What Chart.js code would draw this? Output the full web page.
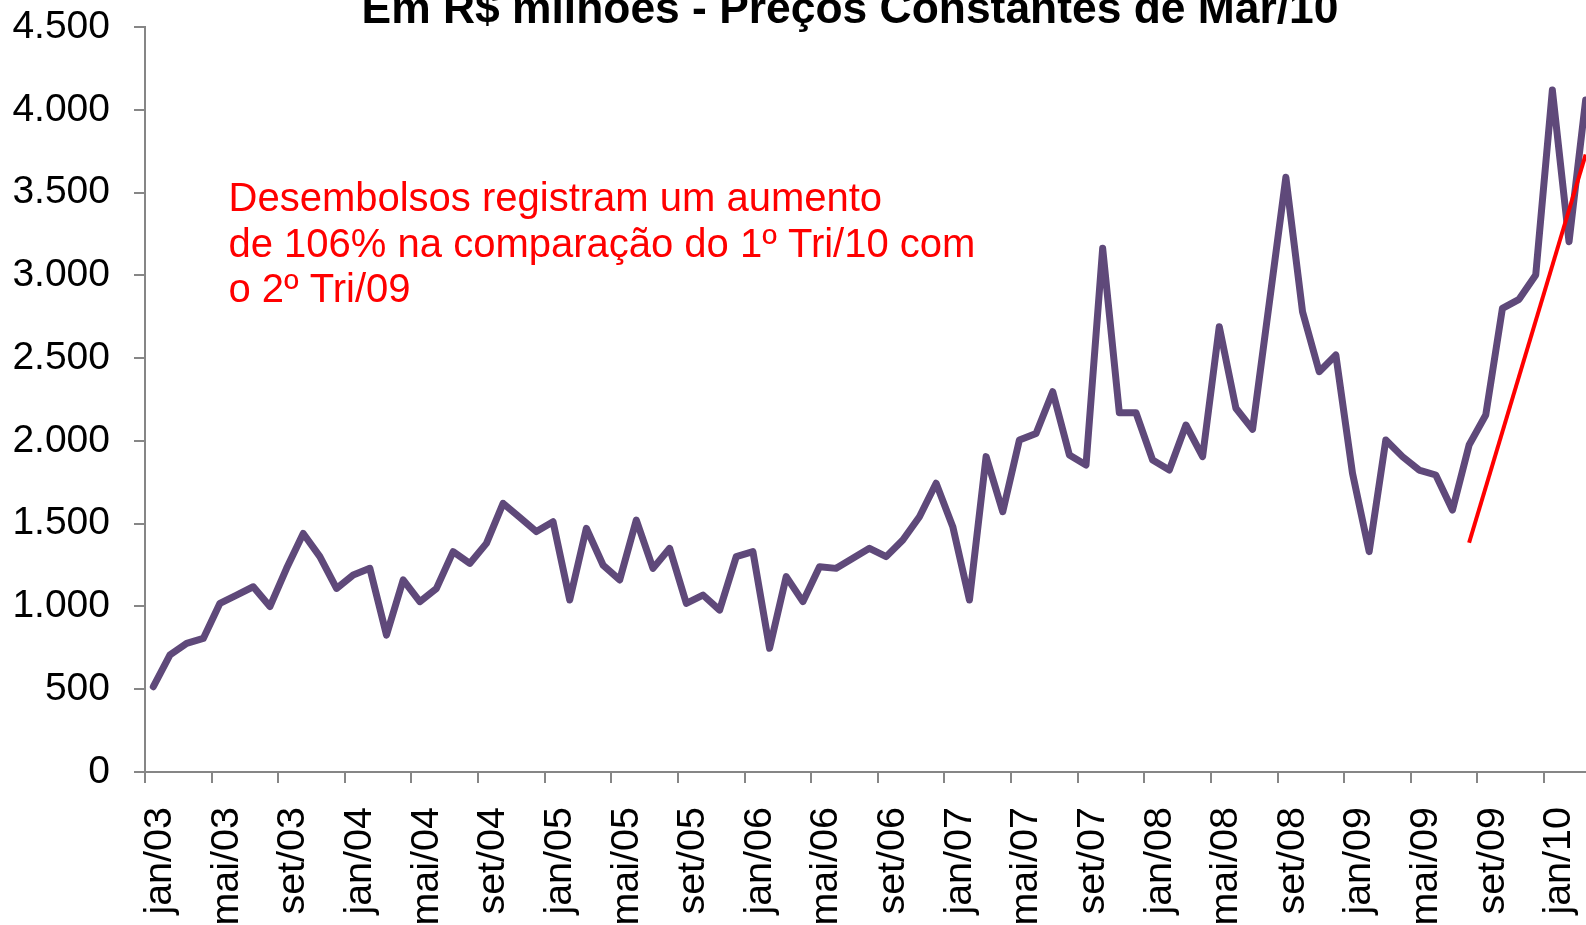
<!DOCTYPE html>
<html lang="pt-BR">
<head>
<meta charset="utf-8">
<title>Desembolsos mensais</title>
<script src="https://cdn.jsdelivr.net/npm/chart.js@4.4.1/dist/chart.umd.min.js"></script>
<style>
  html, body { margin: 0; padding: 0; background: #fff; overflow: hidden; width: 1586px; height: 925px; }
  #wrap { position: relative; width: 1586px; height: 925px; overflow: hidden; }
  #wrap canvas { position: absolute; left: 0; top: 0; }
</style>
</head>
<body>
<div id="wrap"><canvas id="grafico" width="1600" height="925"></canvas></div>
<script>
const titulo = 'Em R$ milhões - Preços Constantes de Mar/10';
const nota = [
  'Desembolsos registram um aumento',
  'de 106% na comparação do 1º Tri/10 com',
  'o 2º Tri/09'
];

const meses = [
  'jan/03', 'fev/03', 'mar/03', 'abr/03', 'mai/03', 'jun/03', 'jul/03', 'ago/03', 'set/03', 'out/03', 'nov/03', 'dez/03',
  'jan/04', 'fev/04', 'mar/04', 'abr/04', 'mai/04', 'jun/04', 'jul/04', 'ago/04', 'set/04', 'out/04', 'nov/04', 'dez/04',
  'jan/05', 'fev/05', 'mar/05', 'abr/05', 'mai/05', 'jun/05', 'jul/05', 'ago/05', 'set/05', 'out/05', 'nov/05', 'dez/05',
  'jan/06', 'fev/06', 'mar/06', 'abr/06', 'mai/06', 'jun/06', 'jul/06', 'ago/06', 'set/06', 'out/06', 'nov/06', 'dez/06',
  'jan/07', 'fev/07', 'mar/07', 'abr/07', 'mai/07', 'jun/07', 'jul/07', 'ago/07', 'set/07', 'out/07', 'nov/07', 'dez/07',
  'jan/08', 'fev/08', 'mar/08', 'abr/08', 'mai/08', 'jun/08', 'jul/08', 'ago/08', 'set/08', 'out/08', 'nov/08', 'dez/08',
  'jan/09', 'fev/09', 'mar/09', 'abr/09', 'mai/09', 'jun/09', 'jul/09', 'ago/09', 'set/09', 'out/09', 'nov/09', 'dez/09',
  'jan/10', 'fev/10', 'mar/10'
];

// rótulos que aparecem no eixo x (a cada 4 meses)
const rotulosX = [
  'jan/03', 'mai/03', 'set/03', 'jan/04', 'mai/04', 'set/04', 'jan/05', 'mai/05', 'set/05',
  'jan/06', 'mai/06', 'set/06', 'jan/07', 'mai/07', 'set/07', 'jan/08', 'mai/08', 'set/08',
  'jan/09', 'mai/09', 'set/09', 'jan/10'
];
const rotulosY = ['0', '500', '1.000', '1.500', '2.000', '2.500', '3.000', '3.500', '4.000', '4.500'];

// desembolsos mensais, R$ milhões
const desembolsos = [
  515, 707, 777, 807, 1019, 1069, 1119, 999, 1230, 1441, 1301, 1109,
  1190, 1230, 827, 1160, 1029, 1109, 1331, 1260, 1381, 1623, 1538, 1452,
  1512, 1039, 1472, 1250, 1160, 1522, 1230, 1351, 1019, 1069, 978, 1301,
  1331, 747, 1180, 1029, 1240, 1230, 1291, 1351, 1301, 1401, 1542, 1744,
  1482, 1039, 1905, 1572, 2005, 2045, 2297, 1915, 1854, 3163, 2170, 2170,
  1884, 1824, 2096, 1905, 2690, 2197, 2070, 2830, 3592, 2780, 2418, 2519,
  1804, 1331, 2005, 1905, 1824, 1794, 1582, 1975, 2156, 2800, 2855, 3002,
  4119, 3203, 4059
];

// linha de tendência vermelha
const tendenciaPontos = [['ago/09', 1385], ['mar/10', 3730]];
const tendencia = meses.map((m) => {
  const p = tendenciaPontos.find((t) => t[0] === m);
  return p ? p[1] : null;
});

const fonte = '"Liberation Sans", Arial, sans-serif';
const cinza = '#868686';

const textos = {
  id: 'textos',
  afterDraw(chart) {
    const { ctx } = chart;
    ctx.save();
    ctx.fillStyle = '#000';
    ctx.font = `bold 44.4px ${fonte}`;
    ctx.textAlign = 'center';
    ctx.textBaseline = 'alphabetic';
    ctx.fillText(titulo, 850, 23);
    ctx.fillStyle = '#FF0000';
    ctx.font = `40px ${fonte}`;
    ctx.textAlign = 'left';
    nota.forEach((linha, i) => ctx.fillText(linha, 228.5, 211 + i * 45.5));
    ctx.restore();
  }
};

new Chart(document.getElementById('grafico'), {
  type: 'line',
  data: {
    labels: meses,
    datasets: [
      {
        label: 'Tendência',
        data: tendencia,
        borderColor: '#FF0000',
        borderWidth: 4,
        pointRadius: 0,
        spanGaps: true,
        tension: 0,
        order: 0
      },
      {
        label: 'Desembolsos',
        data: desembolsos,
        borderColor: '#5F497A',
        borderWidth: 7,
        borderJoinStyle: 'round',
        borderCapStyle: 'round',
        pointRadius: 0,
        tension: 0,
        order: 1
      }
    ]
  },
  options: {
    responsive: false,
    devicePixelRatio: 1,
    animation: false,
    layout: { padding: { top: 27, right: 6, left: 0, bottom: 0 } },
    plugins: { legend: { display: false }, tooltip: { enabled: false }, title: { display: false } },
    scales: {
      x: {
        offset: true,
        afterFit: (s) => {
          s.height = 153;
          s.paddingLeft = 0;
          s.paddingRight = 0;
        },
        grid: {
          offset: true,
          drawOnChartArea: false,
          tickLength: 11,
          lineWidth: 2,
          color: (c) => (c.index % 4 === 0 ? cinza : 'rgba(0,0,0,0)')
        },
        border: { display: true, color: cinza, width: 2 },
        ticks: {
          autoSkip: false,
          minRotation: 90,
          maxRotation: 90,
          padding: 24,
          labelOffset: 7,
          color: '#000',
          font: { family: fonte, size: 39.5 },
          callback: (v, i) => (i % 4 === 0 ? rotulosX[i / 4] : '')
        }
      },
      y: {
        min: 0,
        max: 4500,
        afterFit: (s) => {
          s.width = 145;
          s.paddingTop = 0;
          s.paddingBottom = 0;
        },
        grid: { drawOnChartArea: false, tickLength: 11, lineWidth: 2, color: cinza },
        border: { display: true, color: cinza, width: 2 },
        ticks: {
          stepSize: 500,
          padding: 24,
          color: '#000',
          font: { family: fonte, size: 39 },
          callback: (v) => rotulosY[v / 500]
        }
      }
    }
  },
  plugins: [textos]
});
</script>
</body>
</html>
